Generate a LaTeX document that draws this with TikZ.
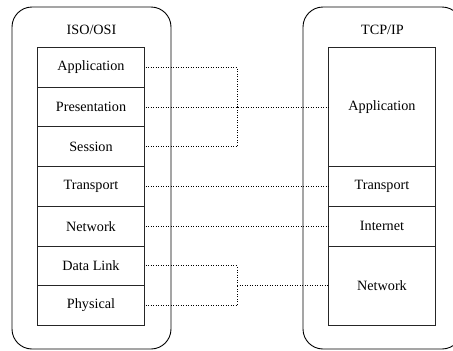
\documentclass[tikz,border=0pt]{standalone}
\usepackage{fontspec}
\setmainfont{Liberation Serif}
\begin{document}
\begin{tikzpicture}[x=1pt,y=-1pt,
  every node/.style={font=\fontsize{14.2}{17}\selectfont},
  stack/.style={draw=black,line width=0.9pt,rounded corners=20pt,inner sep=0pt,outer sep=0pt,minimum width=159pt,minimum height=342pt},
  layer/.style={draw=black!85,line width=0.9pt,inner sep=0pt,outer sep=0pt,minimum width=106.3pt},
  link/.style={line width=0.8pt,dash pattern=on 0.9pt off 1.6pt,shorten <=1.5pt}
]
\useasboundingbox (0,0) rectangle (453,351);

% the two protocol stacks
\node[stack] (osi) at (91.5,178) {};
\node[stack] (tcp) at (382.5,178) {};
\node (osititle) at (91.5,30) {ISO/OSI};
\node (tcptitle) at (382.5,30) {TCP/IP};

% ISO/OSI layers
\node[layer,minimum height=39.7pt] (app) at (91,67.35) {Application};
\node[layer,minimum height=39.7pt] (pre) at (91,107.05) {Presentation};
\node[layer,minimum height=39.7pt] (ses) at (91,146.75) {Session};
\node[layer,minimum height=39.7pt] (tra) at (91,186.45) {Transport};
\node[layer,minimum height=39.7pt] (net) at (91,226.15) {Network};
\node[layer,minimum height=39.7pt] (dat) at (91,265.85) {Data Link};
\node[layer,minimum height=39.7pt] (phy) at (91,305.55) {Physical};

% TCP/IP layers
\node[layer,minimum height=119.1pt] (tapp) at (382,107.05) {Application};
\node[layer,minimum height=39.7pt] (ttra) at (382,186.45) {Transport};
\node[layer,minimum height=39.7pt] (tint) at (382,226.15) {Internet};
\node[layer,minimum height=79.4pt] (tnet) at (382,285.7) {Network};

% junction points of the grouped layers
\coordinate (jA) at (237,107.05);
\coordinate (jB) at (237,285.7);

% correspondence lines
\draw[link] (app.east) -| (jA);
\draw[link] (ses.east) -| (jA);
\draw[link] (pre.east) -- (tapp.west);
\draw[link] (tra.east) -- (ttra.west);
\draw[link] (net.east) -- (tint.west);
\draw[link] (dat.east) -| (jB);
\draw[link] (phy.east) -| (jB);
\draw[link,shorten <=0pt] (jB) -- (tnet.west);
\end{tikzpicture}
\end{document}
